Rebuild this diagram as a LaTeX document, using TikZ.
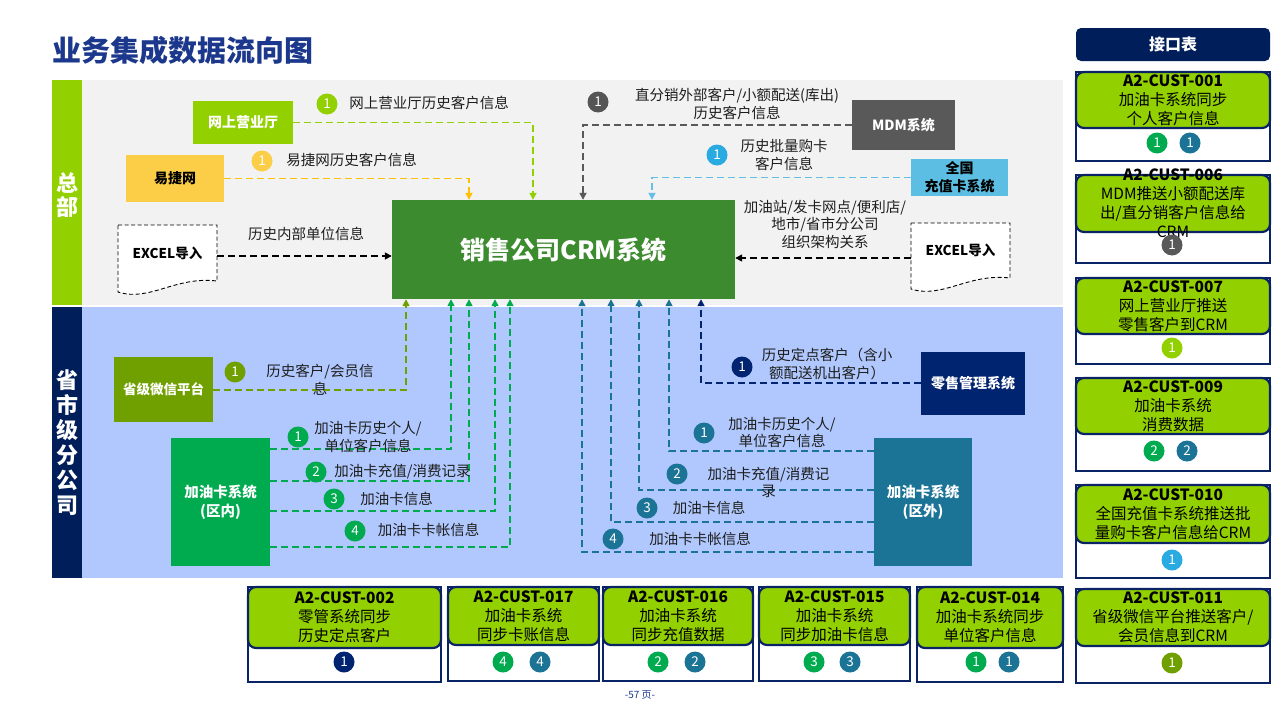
\documentclass[tikz,border=0pt]{standalone}
\usepackage{fontspec}
\setmainfont{Noto Sans CJK SC}
\usetikzlibrary{arrows.meta,calc}
\definecolor{lime}{RGB}{146,208,0}
\definecolor{crmgreen}{RGB}{61,139,47}
\definecolor{yelbox}{RGB}{252,205,70}
\definecolor{yelline}{RGB}{255,192,0}
\definecolor{mdmgrey}{RGB}{89,89,89}
\definecolor{ltbox}{RGB}{91,190,226}
\definecolor{ltline}{RGB}{100,190,230}
\definecolor{ltcirc}{RGB}{41,171,226}
\definecolor{olive}{RGB}{112,160,0}
\definecolor{qngreen}{RGB}{0,171,80}
\definecolor{teal}{RGB}{27,115,150}
\definecolor{navy}{RGB}{0,36,112}
\definecolor{bandnavy}{RGB}{0,30,90}
\definecolor{cardnavy}{RGB}{10,35,100}
\definecolor{bgblue}{RGB}{176,200,254}
\definecolor{bggrey}{RGB}{242,242,242}
\definecolor{titleblue}{RGB}{28,56,140}
\definecolor{txt}{RGB}{30,30,30}
\tikzset{
  flow/.style={draw=#1, line width=1.6pt, dash pattern=on 7pt off 4pt,
    -{Triangle[length=7pt,width=7pt,fill=#1]}},
  num/.style={circle, fill=#1, text=white, minimum size=21pt, inner sep=0pt,
    font=\fontsize{13.5}{13.5}\selectfont},
  lbl/.style={align=center, inner sep=0pt, text=txt, font=\fontsize{14.5}{17.5}\selectfont},
  sysbox/.style={inner sep=0pt, align=center, font=\bfseries\fontsize{14}{18}\selectfont},
  docshape/.style={draw=black, line width=0.9pt, dash pattern=on 4pt off 2.5pt, fill=white},
  cardout/.style={draw=cardnavy, line width=2.8pt, fill=white},
  cardtop/.style={draw=cardnavy, line width=2.2pt, fill=lime, rounded corners=8pt},
  cardtxt/.style={align=center, inner sep=0pt, text=black, font=\fontsize{15.5}{19}\selectfont},
}
\newcommand{\ifacecard}[7]{%
  \draw[cardout] (#2,#3) rectangle (#4,#5);
  \draw[cardtop] (#2,#3) rectangle (#4,#6);
  \node[cardtxt] (#1) at ({(#2+#4)/2},{(#3+#6)/2}) {#7};
}
\begin{document}
\begin{tikzpicture}[x=1pt,y=-1pt]
\useasboundingbox (0,0) rectangle (1280,720);
\fill[white] (0,0) rectangle (1280,720);

% title
\node[anchor=west, inner sep=0pt, text=titleblue, font=\bfseries\fontsize{29}{32}\selectfont] (title) at (52,50) {业务集成数据流向图};

% bands
\fill[lime] (52,80) rectangle (82,305);
\fill[bggrey] (82,80) rectangle (1063,305);
\fill[bandnavy] (52,307) rectangle (82,578);
\fill[bgblue] (82,307) rectangle (1063,578);
\node[align=center, text=white, inner sep=0pt, font=\bfseries\fontsize{22}{24}\selectfont] (hq) at (67,195) {总\\部};
\node[align=center, text=white, inner sep=0pt, font=\bfseries\fontsize{22}{25}\selectfont] (prov) at (67,443) {省\\市\\级\\分\\公\\司};

% document shapes
\draw[docshape] (118,225) -- (217,225) -- (217,281) .. controls (175,276) and (150,302) .. (118,292) -- cycle;
\draw[docshape] (911,223) -- (1010,223) -- (1010,278) .. controls (968,273) and (943,299) .. (911,289) -- cycle;

% main nodes
\node[sysbox, fill=crmgreen, text=white, minimum width=343pt, minimum height=99pt,
  font=\bfseries\fontsize{25}{28}\selectfont] (crm) at (563.5,249.5) {销售公司CRM系统};
\node[sysbox, fill=lime, text=white, minimum width=100pt, minimum height=43pt] (wsyyt) at (243,122.5) {网上营业厅};
\node[sysbox, fill=yelbox, text=black, minimum width=98pt, minimum height=47pt] (yjw) at (175,178.5) {易捷网};
\node[sysbox, text=black, font=\bfseries\fontsize{13.5}{16}\selectfont] (exl) at (167.5,253) {EXCEL导入};
\node[sysbox, text=black, font=\bfseries\fontsize{13.5}{16}\selectfont] (exr) at (960.5,250) {EXCEL导入};
\node[sysbox, fill=mdmgrey, text=white, minimum width=103pt, minimum height=50pt] (mdm) at (903.5,125) {MDM系统};
\node[sysbox, fill=ltbox, text=black, minimum width=97pt, minimum height=37pt] (qg) at (959.5,177.5) {全国\\充值卡系统};
\node[sysbox, fill=olive, text=white, minimum width=99pt, minimum height=65pt,
  font=\bfseries\fontsize{13.5}{16}\selectfont] (wx) at (163.5,389.5) {省级微信平台};
\node[sysbox, fill=qngreen, text=white, minimum width=99pt, minimum height=128pt,
  font=\bfseries\fontsize{14.5}{19}\selectfont] (qn) at (220.5,502) {加油卡系统\\(区内)};
\node[sysbox, fill=navy, text=white, minimum width=104pt, minimum height=63pt] (ls) at (973,383.5) {零售管理系统};
\node[sysbox, fill=teal, text=white, minimum width=98pt, minimum height=128pt,
  font=\bfseries\fontsize{14.5}{19}\selectfont] (qw) at (923,502) {加油卡系统\\(区外)};

% connector coordinates
\coordinate (tY) at (469,0);
\coordinate (tL) at (533,0);
\coordinate (tG) at (583,0);
\coordinate (tB) at (652,0);
\coordinate (exle) at (217,256);
\coordinate (exre) at (911,258);
\coordinate (bW) at (406,390);
\coordinate (q1) at (451,449);
\coordinate (q2) at (469,481);
\coordinate (q3) at (495,511);
\coordinate (q4) at (510,547);
\coordinate (bL) at (701,383);
\coordinate (w1) at (669,451);
\coordinate (w2) at (639,490);
\coordinate (w3) at (611,522);
\coordinate (w4) at (582,552);

% connectors (top)
\draw[flow=lime] (wsyyt.east) -| (tL |- crm.north);
\draw[flow=yelline] (yjw.east) -| (tY |- crm.north);
\draw[flow=mdmgrey] (mdm.west) -| (tG |- crm.north);
\draw[flow=ltline] (qg.west) -| (tB |- crm.north);
\draw[flow=black] (exle) -- (exle -| crm.west);
\draw[flow=black] (exre) -- (exre -| crm.east);
% connectors (bottom)
\draw[flow=olive] (wx.east |- bW) -| (bW |- crm.south);
\draw[flow=qngreen] (qn.east |- q1) -| (q1 |- crm.south);
\draw[flow=qngreen] (qn.east |- q2) -| (q2 |- crm.south);
\draw[flow=qngreen] (qn.east |- q3) -| (q3 |- crm.south);
\draw[flow=qngreen] (qn.east |- q4) -| (q4 |- crm.south);
\draw[flow=navy] (ls.west |- bL) -| (bL |- crm.south);
\draw[flow=teal] (qw.west |- w1) -| (w1 |- crm.south);
\draw[flow=teal] (qw.west |- w2) -| (w2 |- crm.south);
\draw[flow=teal] (qw.west |- w3) -| (w3 |- crm.south);
\draw[flow=teal] (qw.west |- w4) -| (w4 |- crm.south);

% labels and number circles
\node[num=lime] (n1) at (327,104) {1};
\node[lbl] (l1) at (429,103) {网上营业厅历史客户信息};
\node[num=yelbox] (n2) at (262,161) {1};
\node[lbl] (l2) at (351.5,160) {易捷网历史客户信息};
\node[lbl] (l3) at (306,234) {历史内部单位信息};
\node[num=mdmgrey!95!black] (n4) at (598,102) {1};
\node[lbl] (l4) at (737,104) {直分销外部客户/小额配送(库出)\\历史客户信息};
\node[num=ltcirc] (n5) at (717,155) {1};
\node[lbl] (l5) at (784,155) {历史批量购卡\\客户信息};
\node[lbl] (l6) at (825,224) {加油站/发卡网点/便利店/\\地市/省市分公司\\组织架构关系};

\node[num=olive] (n7) at (235,372) {1};
\node[lbl] (l7) at (320,380) {历史客户/会员信\\息};
\node[num=qngreen] (n8) at (298,437) {1};
\node[lbl] (l8) at (368,437) {加油卡历史个人/\\单位客户信息};
\node[num=qngreen] (n9) at (316,472) {2};
\node[lbl] (l9) at (402.5,472) {加油卡充值/消费记录};
\node[num=qngreen] (n10) at (334,499) {3};
\node[lbl] (l10) at (396.5,499) {加油卡信息};
\node[num=qngreen] (n11) at (355,531) {4};
\node[lbl] (l11) at (428.5,530) {加油卡卡帐信息};

\node[num=navy] (n12) at (742,367) {1};
\node[lbl] (l12) at (827,364) {历史定点客户（含小\\额配送机出客户）};
\node[num=teal] (n13) at (704,433) {1};
\node[lbl] (l13) at (782,432.5) {加油卡历史个人/\\单位客户信息};
\node[num=teal] (n14) at (677,474) {2};
\node[lbl] (l14) at (768.5,482.5) {加油卡充值/消费记\\录};
\node[num=teal] (n15) at (647,508) {3};
\node[lbl] (l15) at (709,508) {加油卡信息};
\node[num=teal] (n16) at (613,539) {4};
\node[lbl] (l16) at (700,539) {加油卡卡帐信息};

% interface table header
\node[fill=bandnavy, rounded corners=5pt, minimum width=194pt, minimum height=33pt, inner sep=0pt,
  text=white, font=\bfseries\fontsize{16}{18}\selectfont] (ifhead) at (1173,44.5) {接口表};

% right cards
\ifacecard{c001}{1076}{72}{1270}{161}{128}{{\bfseries A2-CUST-001}\\加油卡系统同步\\个人客户信息}
\node[num=qngreen] (c001a) at (1157,143) {1};
\node[num=teal] (c001b) at (1190,143) {1};
\ifacecard{c006}{1076}{175}{1270}{263}{232}{{\bfseries A2-CUST-006}\\MDM推送小额配送库\\出/直分销客户信息给\\CRM}
\node[num=mdmgrey] (c006a) at (1172,245) {1};
\ifacecard{c007}{1076}{278}{1270}{364}{334}{{\bfseries A2-CUST-007}\\网上营业厅推送\\零售客户到CRM}
\node[num=lime] (c007a) at (1172,348) {1};
\ifacecard{c009}{1076}{378}{1270}{471}{434}{{\bfseries A2-CUST-009}\\加油卡系统\\消费数据}
\node[num=qngreen] (c009a) at (1154,451) {2};
\node[num=teal] (c009b) at (1187,451) {2};
\ifacecard{c010}{1076}{485}{1270}{578}{543}{{\bfseries A2-CUST-010}\\全国充值卡系统推送批\\量购卡客户信息给CRM}
\node[num=ltcirc] (c010a) at (1172,560) {1};
\ifacecard{c011}{1076}{589}{1270}{683}{646}{{\bfseries A2-CUST-011}\\省级微信平台推送客户/\\会员信息到CRM}
\node[num=olive] (c011a) at (1172,663) {1};

% bottom cards
\ifacecard{c002}{248}{587}{441}{682}{648}{{\bfseries A2-CUST-002}\\零管系统同步\\历史定点客户}
\node[num=navy] (c002a) at (344,662) {1};
\ifacecard{c017}{448}{587}{599}{681}{645}{{\bfseries A2-CUST-017}\\加油卡系统\\同步卡账信息}
\node[num=qngreen] (c017a) at (503,662) {4};
\node[num=teal] (c017b) at (540,662) {4};
\ifacecard{c016}{603}{587}{753}{681}{645}{{\bfseries A2-CUST-016}\\加油卡系统\\同步充值数据}
\node[num=qngreen] (c016a) at (658,662) {2};
\node[num=teal] (c016b) at (695,662) {2};
\ifacecard{c015}{759}{587}{910}{681}{645}{{\bfseries A2-CUST-015}\\加油卡系统\\同步加油卡信息}
\node[num=qngreen] (c015a) at (814,662) {3};
\node[num=teal] (c015b) at (850,662) {3};
\ifacecard{c014}{917}{587}{1063}{682}{648}{{\bfseries A2-CUST-014}\\加油卡系统同步\\单位客户信息}
\node[num=qngreen] (c014a) at (976,662) {1};
\node[num=teal] (c014b) at (1009,662) {1};

% page number
\node[inner sep=0pt, text=titleblue, font=\fontsize{10}{11}\selectfont] (page) at (640,695) {-57 页-};
\end{tikzpicture}
\end{document}
